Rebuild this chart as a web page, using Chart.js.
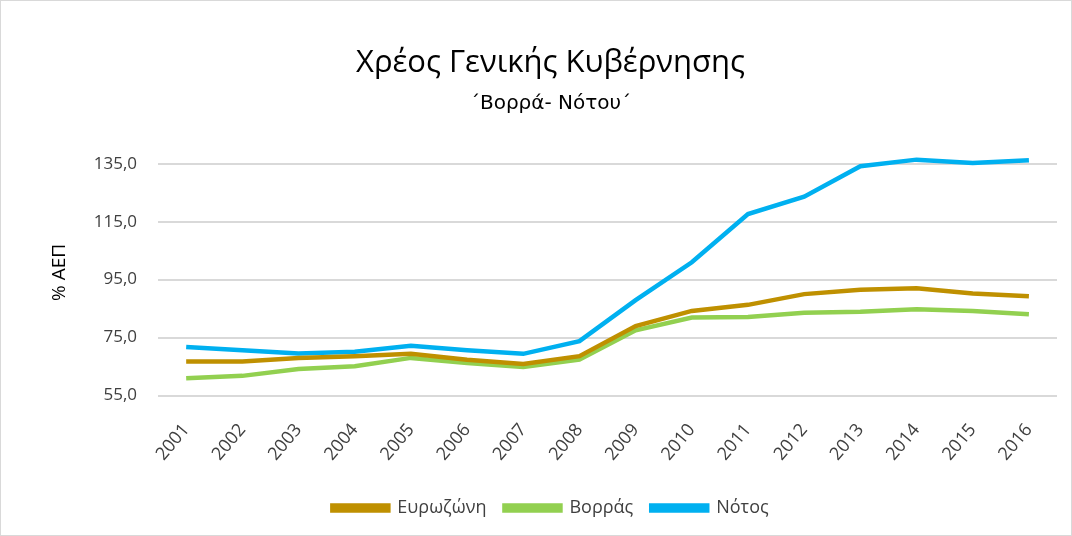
<!DOCTYPE html>
<html>
<head>
<meta charset="utf-8">
<script src="https://cdn.jsdelivr.net/npm/chart.js@4"></script>
<style>
html,body{margin:0;padding:0;background:#fff;}
#wrap{width:1072px;height:536px;position:relative;box-sizing:border-box;border:1px solid #d9d9d9;}
</style>
</head>
<body>
<div id="wrap"><canvas id="c" width="1070" height="534"></canvas></div>
<script>
const years = ['2001','2002','2003','2004','2005','2006','2007','2008','2009','2010','2011','2012','2013','2014','2015','2016'];
const eurozone = [66.8,66.8,68.0,68.6,69.4,67.4,65.9,68.6,79.0,84.2,86.3,90.0,91.5,92.0,90.2,89.3];
const north = [61.0,61.8,64.2,65.1,68.0,66.2,64.9,67.4,77.5,81.9,82.1,83.6,83.9,84.8,84.2,83.1];
const south = [71.8,70.6,69.5,70.1,72.2,70.6,69.4,73.8,87.9,101.0,117.6,123.6,134.1,136.4,135.2,136.2];
const yTicks = [55,75,95,115,135];
const seriesNames = ['Ευρωζώνη','Βορράς','Νότος'];
const titleText = 'Χρέος Γενικής Κυβέρνησης';
const subtitleText = '΄Βορρά- Νότου΄';
const yTitle = '% ΑΕΠ';

const FONT = "'Open Sans', sans-serif";
const mk = (label, data, color) => ({label, data, borderColor: color, backgroundColor: color, borderWidth: 4.5, pointRadius: 0, tension: 0, fill: false});

new Chart(document.getElementById('c'), {
  type: 'line',
  data: {
    labels: years,
    datasets: [
      mk(seriesNames[0], eurozone, '#BF9000'),
      mk(seriesNames[1], north, '#92D050'),
      mk(seriesNames[2], south, '#00B0F0')
    ]
  },
  options: {
    responsive: false,
    animation: false,
    layout: {padding: {left: 43, right: 14, top: 24, bottom: 8}},
    plugins: {
      title: {display: true, text: titleText, color: '#000', font: {family: FONT, size: 31, weight: 'normal'}, padding: {top: 20, bottom: 2}},
      subtitle: {display: true, text: subtitleText, color: '#000', font: {family: "'DejaVu Sans', sans-serif", size: 20, weight: 'normal'}, padding: {top: 8, bottom: 33}},
      legend: {position: 'bottom', labels: {boxWidth: 56, boxHeight: 5, color: '#404040', font: {family: FONT, size: 18}, padding: 18}},
      tooltip: {enabled: false}
    },
    scales: {
      x: {
        offset: true,
        grid: {display: false},
        border: {display: false},
        ticks: {minRotation: 50, maxRotation: 50, color: '#404040', font: {family: FONT, size: 18}, padding: 16}
      },
      y: {
        min: 55, max: 140,
        afterBuildTicks: (axis) => { axis.ticks = yTicks.map(v => ({value: v})); },
        grid: {color: '#d9d9d9', lineWidth: 2, drawTicks: false},
        border: {display: false},
        title: {display: true, text: yTitle, color: '#000', font: {family: FONT, size: 19}, padding: {bottom: 2}},
        ticks: {color: '#404040', font: {family: FONT, size: 17}, padding: 21, callback: (v) => v.toFixed(1).replace('.', ',')}
      }
    }
  }
});
</script>
</body>
</html>
